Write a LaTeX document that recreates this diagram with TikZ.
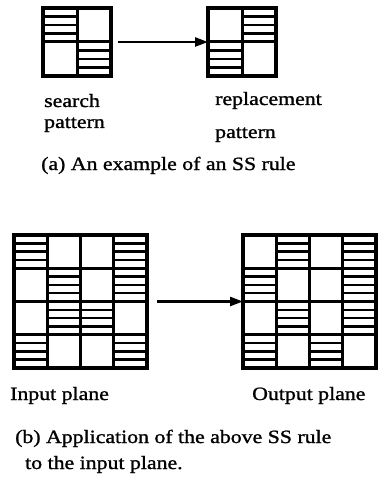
\documentclass[tikz,border=0pt]{standalone}
\usepackage{fontspec}
\setmainfont{Liberation Serif}[FakeStretch=1.16, FakeBold=1.2]
\usetikzlibrary{arrows.meta}

\tikzset{
  gridbox/.style={draw, line width=3.4pt, inner sep=0pt, outer sep=0pt, fill=white},
  gridline/.style={line width=3pt, line cap=butt},
  stripe/.style={line width=2.6pt, line cap=butt},
  bigarrow/.style={line width=2.4pt, -{Triangle[length=13pt,width=9pt]}},
  lbl/.style={anchor=base west, inner sep=0pt, font=\fontsize{18.8}{22}\selectfont},
}

% #1 node name, #2 left x, #3 top y, #4 cell size, #5 cells per side,
% #6 list of striped cells as row/column
\newcommand\ssgrid[6]{%
  \pgfmathsetmacro\gside{#4*#5}%
  \pgfmathtruncatemacro\ginner{#5-1}%
  \node[gridbox, minimum size=\gside pt, anchor=north west] (#1) at (#2,#3) {};
  \foreach \r/\c in {#6} {
    \foreach \k in {1,2,3}
      \draw[stripe] ({#2+(\c-1)*#4}, {#3+(\r-1)*#4+\k*#4/4}) -- ++(#4,0);
  }
  \foreach \i in {1,...,\ginner} {
    \draw[gridline] ({#2+\i*#4}, #3) -- ++(0,\gside);
    \draw[gridline] (#2, {#3+\i*#4}) -- ++(\gside,0);
  }
  \draw[line width=3.4pt] (#1.north west) rectangle (#1.south east);
}

\begin{document}
\begin{tikzpicture}[x=1pt, y=-1pt]
  \useasboundingbox (0,0) rectangle (378,489);

  % (a) the rule: search pattern and replacement pattern
  \ssgrid{search}{43}{8}{34}{2}{1/1,2/2}
  \ssgrid{replace}{208}{8}{34}{2}{1/2,2/1}
  \draw[bigarrow, shorten <=7pt] (search.east) -- (replace.west);

  \node[lbl] (s1) at (44,107) {search};
  \node[lbl] (s2) at (44,128) {pattern};
  \node[lbl] (r1) at (215,105) {replacement};
  \node[lbl] (r2) at (215,138) {pattern};
  \node[lbl] (capa) at (41,170) {(a) An example of an SS rule};

  % (b) the rule applied to a 4x4 plane
  \ssgrid{inplane}{14}{235}{33.25}{4}{1/1,1/4,2/2,2/4,3/2,3/3,4/1,4/4}
  \ssgrid{outplane}{243}{235}{33.25}{4}{1/2,1/4,2/1,2/4,3/2,3/4,4/1,4/3}
  \draw[bigarrow, shorten <=10pt] (inplane.east) -- (outplane.west);

  \node[lbl] (in) at (10,400) {Input plane};
  \node[lbl] (out) at (252,400) {Output plane};
  \node[lbl] (capb1) at (15,443) {(b) Application of the above SS rule};
  \node[lbl] (capb2) at (25,469) {to the input plane.};
\end{tikzpicture}
\end{document}
